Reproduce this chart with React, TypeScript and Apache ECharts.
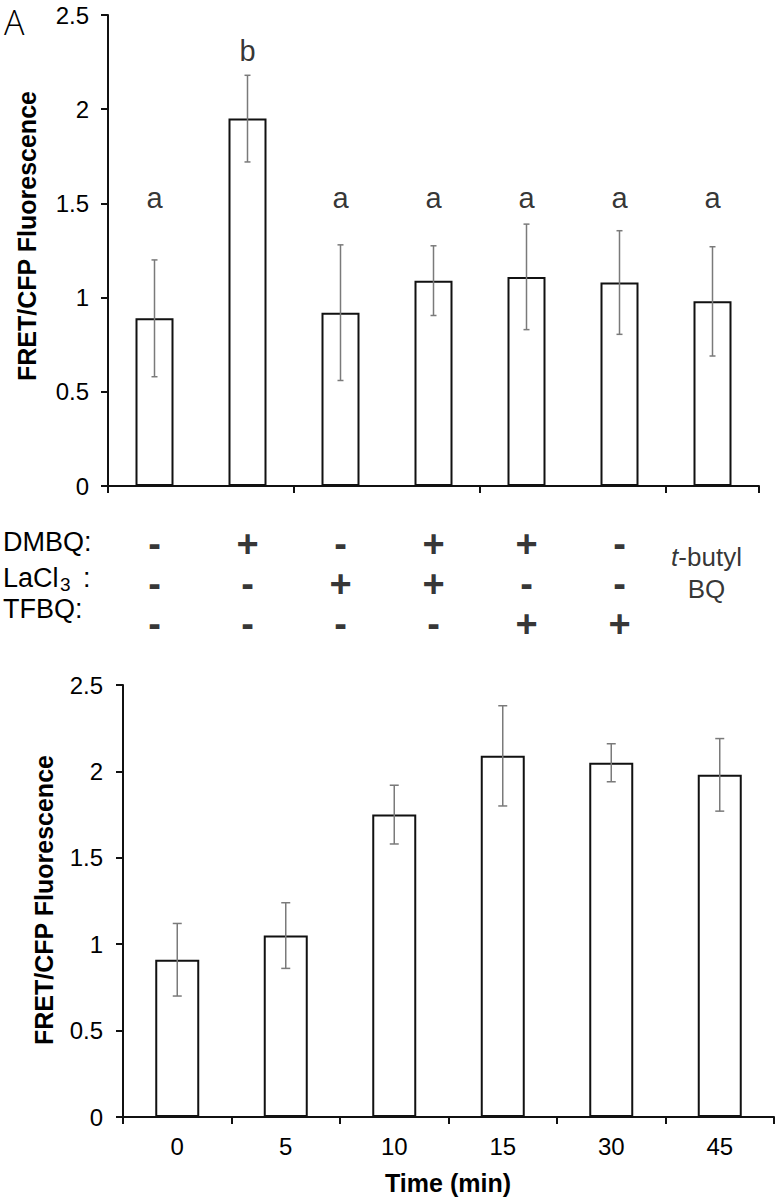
import React, { useEffect, useRef } from "react";
import * as echarts from "echarts";

// ---------- Data ----------
const topCategories = ["Control", "DMBQ", "LaCl3", "DMBQ+LaCl3", "DMBQ+TFBQ", "TFBQ", "t-butyl BQ"];
const topMeans = [0.89, 1.95, 0.92, 1.09, 1.11, 1.08, 0.98];
const topErrors = [0.31, 0.23, 0.36, 0.185, 0.28, 0.275, 0.29];
const topLetters = ["a", "b", "a", "a", "a", "a", "a"];
const letterLevels = [1.53, 2.31, 1.53, 1.53, 1.53, 1.53, 1.53];

const rowNames = ["DMBQ", "LaCl3", "TFBQ"];
const dmbqSigns = ["-", "+", "-", "+", "+", "-"];
const lacl3Signs = ["-", "-", "+", "+", "-", "-"];
const tfbqSigns = ["-", "-", "-", "-", "+", "+"];
const lastColumnLabel = ["t-butyl", "BQ"];

const timeLabels = ["0", "5", "10", "15", "30", "45"];
const timeMeans = [0.91, 1.05, 1.75, 2.09, 2.05, 1.98];
const timeErrors = [0.21, 0.19, 0.17, 0.29, 0.11, 0.21];

const yTicks = { min: 0, max: 2.5, interval: 0.5 };

// ---------- Styles ----------
const FONT = "'Liberation Sans', Arial, Helvetica, sans-serif";
const TXT = "#000000";
const AXIS = "#111111";

function errorRenderer(cap: number) {
  return (params: any, api: any) => {
    const x = api.value(0);
    const lo = api.coord([x, api.value(1)]);
    const hi = api.coord([x, api.value(2)]);
    const style = { stroke: "#7a7a7a", lineWidth: 1.5 };
    return {
      type: "group",
      children: [
        { type: "line", shape: { x1: hi[0], y1: hi[1], x2: lo[0], y2: lo[1] }, style },
        { type: "line", shape: { x1: hi[0] - cap, y1: hi[1], x2: hi[0] + cap, y2: hi[1] }, style },
        { type: "line", shape: { x1: lo[0] - cap, y1: lo[1], x2: lo[0] + cap, y2: lo[1] }, style },
      ],
    };
  };
}

export default function App() {
  const ref = useRef<HTMLDivElement>(null);

  useEffect(() => {
    if (!ref.current) return;
    const chart = echarts.init(ref.current, undefined, { renderer: "svg" });

    const valueAxis = (gridIndex: number, margin: number) => ({
      gridIndex,
      type: "value",
      min: yTicks.min,
      max: yTicks.max,
      interval: yTicks.interval,
      axisLine: { show: true, lineStyle: { color: AXIS, width: 2 } },
      axisTick: { show: true, length: 7, lineStyle: { color: AXIS, width: 2 } },
      splitLine: { show: false },
      axisLabel: { fontSize: 24, color: TXT, fontFamily: FONT, margin },
    });

    const signRows = [dmbqSigns, lacl3Signs, tfbqSigns];
    const signData: any[] = [];
    signRows.forEach((row, r) => {
      row.forEach((s, i) => {
        signData.push({ name: rowNames[r], value: [i, r + 0.5, s] });
      });
    });

    const hiddenPoint = { color: "transparent", borderWidth: 0 };

    const option: any = {
      animation: false,
      backgroundColor: "#ffffff",
      grid: [
        { left: 108, top: 15, width: 651, height: 471 },
        { left: 123, top: 685, width: 651, height: 432 },
        { left: 108, top: 524, width: 651, height: 120 },
      ],
      xAxis: [
        {
          gridIndex: 0,
          type: "category",
          data: topCategories,
          axisLine: { lineStyle: { color: AXIS, width: 2 } },
          axisTick: { show: true, length: 7, lineStyle: { color: AXIS, width: 2 } },
          axisLabel: { show: false },
        },
        {
          gridIndex: 1,
          type: "category",
          data: timeLabels,
          axisLine: { lineStyle: { color: AXIS, width: 2 } },
          axisTick: { show: true, length: 7, lineStyle: { color: AXIS, width: 2 } },
          axisLabel: { fontSize: 24, color: TXT, fontFamily: FONT, margin: 17 },
        },
        { gridIndex: 2, type: "category", data: topCategories, show: false },
      ],
      yAxis: [
        valueAxis(0, 19),
        valueAxis(1, 20),
        { gridIndex: 2, type: "value", min: 0, max: 3, inverse: true, show: false },
      ],
      series: [
        {
          type: "bar",
          xAxisIndex: 0,
          yAxisIndex: 0,
          data: topMeans,
          barWidth: 38,
          itemStyle: { color: "#ffffff", borderColor: AXIS, borderWidth: 2 },
        },
        {
          type: "custom",
          xAxisIndex: 0,
          yAxisIndex: 0,
          z: 10,
          renderItem: errorRenderer(3),
          encode: { x: 0, y: [1, 2] },
          data: topMeans.map((m, i) => [i, m - topErrors[i], m + topErrors[i]]),
        },
        {
          type: "scatter",
          xAxisIndex: 0,
          yAxisIndex: 0,
          symbolSize: 1,
          itemStyle: hiddenPoint,
          data: topLetters.map((l, i) => [i, letterLevels[i], l]),
          label: {
            show: true,
            position: "inside",
            formatter: (p: any) => p.value[2],
            fontSize: 29,
            color: TXT,
            textBorderWidth: 0,
            fontFamily: FONT,
          },
        },
        {
          type: "bar",
          xAxisIndex: 1,
          yAxisIndex: 1,
          data: timeMeans,
          barWidth: 44,
          itemStyle: { color: "#ffffff", borderColor: AXIS, borderWidth: 2 },
        },
        {
          type: "custom",
          xAxisIndex: 1,
          yAxisIndex: 1,
          z: 10,
          renderItem: errorRenderer(4.5),
          encode: { x: 0, y: [1, 2] },
          data: timeMeans.map((m, i) => [i, m - timeErrors[i], m + timeErrors[i]]),
        },
        {
          type: "scatter",
          xAxisIndex: 2,
          yAxisIndex: 2,
          symbolSize: 1,
          itemStyle: hiddenPoint,
          data: signData,
          label: {
            show: true,
            position: "inside",
            formatter: (p: any) => p.value[2],
            fontSize: 38,
            fontWeight: "bold",
            color: TXT,
            textBorderWidth: 0,
            fontFamily: FONT,
          },
        },
        {
          type: "scatter",
          xAxisIndex: 2,
          yAxisIndex: 2,
          symbolSize: 1,
          itemStyle: hiddenPoint,
          data: [[6, 1.22]],
          label: {
            show: true,
            position: "inside",
            offset: [-6, 0],
            textBorderWidth: 0,
            formatter: `{it|${lastColumnLabel[0].slice(0, 1)}}{n|${lastColumnLabel[0].slice(1)}}\n{n|${lastColumnLabel[1]}}`,
            rich: {
              it: { fontSize: 26, fontStyle: "italic", color: TXT, fontFamily: FONT, lineHeight: 32 },
              n: { fontSize: 26, color: TXT, fontFamily: FONT, lineHeight: 32 },
            },
            align: "center",
          },
        },
      ],
      graphic: [
        {
          type: "text",
          x: 4,
          y: 5,
          style: {
            text: "A",
            fontSize: 34,
            fontFamily: "'Open Sans', " + FONT,
            fontWeight: 300,
            fill: TXT,
            verticalAlign: "top",
          },
        },
        {
          type: "text",
          x: 27,
          y: 236,
          rotation: Math.PI / 2,
          style: {
            text: "FRET/CFP Fluorescence",
            fontSize: 25,
            fontWeight: "bold",
            fontFamily: FONT,
            fill: TXT,
            align: "center",
            verticalAlign: "middle",
          },
        },
        {
          type: "text",
          x: 44,
          y: 900,
          rotation: Math.PI / 2,
          style: {
            text: "FRET/CFP Fluorescence",
            fontSize: 25,
            fontWeight: "bold",
            fontFamily: FONT,
            fill: TXT,
            align: "center",
            verticalAlign: "middle",
          },
        },
        {
          type: "text",
          x: 448,
          y: 1183,
          style: {
            text: "Time (min)",
            fontSize: 25,
            fontWeight: "bold",
            fontFamily: FONT,
            fill: TXT,
            align: "center",
            verticalAlign: "middle",
          },
        },
        {
          type: "text",
          x: 3,
          y: 542,
          style: { text: "DMBQ:", fontSize: 27, fontFamily: FONT, fill: TXT, verticalAlign: "middle" },
        },
        {
          type: "text",
          x: 3,
          y: 578,
          style: { text: "LaCl", fontSize: 27, fontFamily: FONT, fill: TXT, verticalAlign: "middle" },
        },
        {
          type: "text",
          x: 60,
          y: 584,
          style: { text: "3", fontSize: 19, fontFamily: FONT, fill: TXT, verticalAlign: "middle" },
        },
        {
          type: "text",
          x: 83,
          y: 578,
          style: { text: ":", fontSize: 27, fontFamily: FONT, fill: TXT, verticalAlign: "middle" },
        },
        {
          type: "text",
          x: 3,
          y: 609,
          style: { text: "TFBQ:", fontSize: 27, fontFamily: FONT, fill: TXT, verticalAlign: "middle" },
        },
      ],
    };

    chart.setOption(option);
    return () => chart.dispose();
  }, []);

  return (
    <div
      ref={ref}
      style={{ position: "absolute", left: 0, top: 0, width: 778, height: 1199, background: "#fff" }}
    />
  );
}
